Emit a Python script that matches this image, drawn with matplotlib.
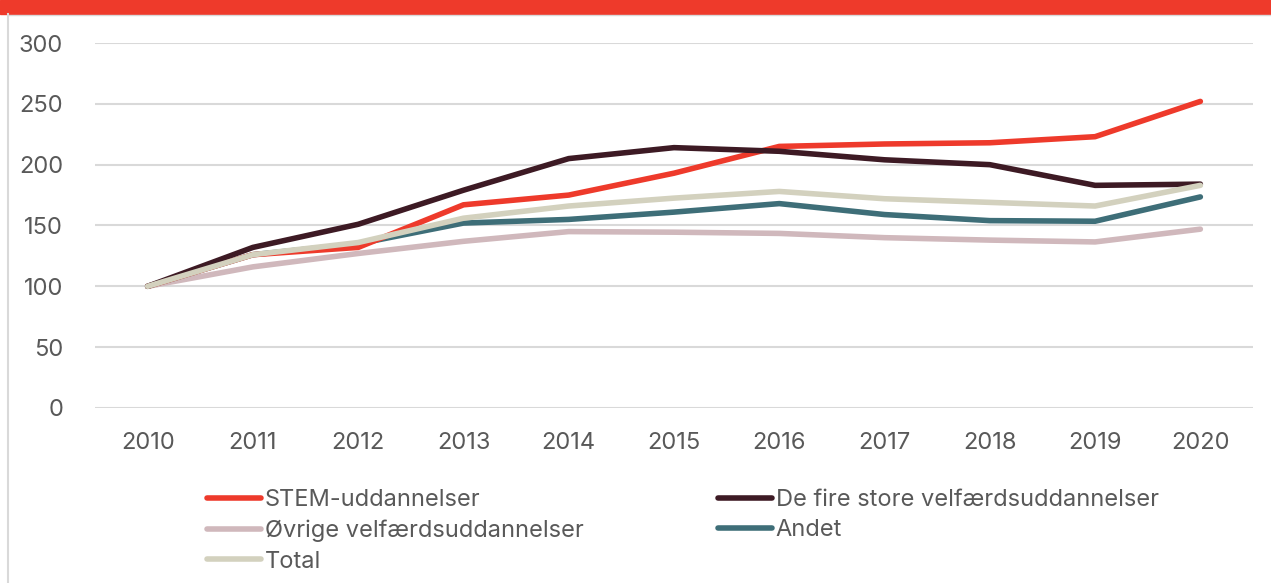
import matplotlib.pyplot as plt
from matplotlib.lines import Line2D
from matplotlib.patches import Rectangle

plt.rcParams['font.family'] = ['Inter', 'DejaVu Sans']

years = ['2010', '2011', '2012', '2013', '2014', '2015', '2016', '2017', '2018', '2019', '2020']
stem = [100, 126, 132, 167, 175, 193, 215, 217, 218, 223, 252]
fire_store = [100, 132, 151, 179, 205, 214, 211, 204, 200, 183, 184]
oevrige = [100, 116, 127, 137, 145, 144.5, 143.5, 140, 138, 136.5, 147]
andet = [100, 126, 135, 152, 155, 161, 168, 159, 154, 153.5, 173.5]
total = [100, 126, 136, 156, 166, 172.5, 178, 172, 169, 166, 183]

W, H = 1271, 583
fig = plt.figure(figsize=(W / 100, H / 100), dpi=100)

# red band on top + thin grey frame on the left
fig.patches.append(Rectangle((0, 1 - 14 / H), 1, 14 / H, transform=fig.transFigure,
                             color='#EE3A2B', zorder=0))
fig.lines.append(Line2D([8 / W, 8 / W], [0, 1 - 14 / H], transform=fig.transFigure,
                        color='#D9D9D9', lw=1.5))
fig.lines.append(Line2D([8 / W, 1], [1 - 15 / H, 1 - 15 / H], transform=fig.transFigure,
                        color='#D9D9D9', lw=1))

ax = fig.add_axes([95 / W, 1 - 408 / H, (1253 - 95) / W, (408 - 43) / H])

x = range(len(years))
series = [
    ('STEM-uddannelser', stem, '#EE3A2B'),
    ('De fire store velfærdsuddannelser', fire_store, '#3D1A24'),
    ('Øvrige velfærdsuddannelser', oevrige, '#D0B8BC'),
    ('Andet', andet, '#3E6E78'),
    ('Total', total, '#D3D1BE'),
]
order = {'Øvrige velfærdsuddannelser': 1, 'Andet': 2, 'STEM-uddannelser': 3,
         'De fire store velfærdsuddannelser': 4, 'Total': 5}
handles = {}
for name, vals, col in series:
    h, = ax.plot(x, vals, color=col, lw=4, solid_capstyle='round',
                 solid_joinstyle='round', zorder=order[name], label=name)
    handles[name] = h

ax.set_xlim(-0.5, len(years) - 0.5)
ax.set_ylim(0, 300)
ax.set_yticks(range(0, 301, 50))
ax.set_xticks(list(x))
ax.set_xticklabels(years)
ax.grid(axis='y', color='#D9D9D9', lw=1.5)
ax.set_axisbelow(True)
for s in ax.spines.values():
    s.set_visible(False)
ax.tick_params(length=0, labelsize=17, colors='#595959')
ax.tick_params(axis='y', pad=23)
ax.tick_params(axis='x', pad=17)

leg_kw = dict(frameon=False, fontsize=17, labelcolor='#595959', handlelength=2.3,
              handletextpad=0.15, labelspacing=0.36, borderaxespad=0, borderpad=0)
leg1 = fig.legend([handles['STEM-uddannelser'], handles['Øvrige velfærdsuddannelser'], handles['Total']],
                  ['STEM-uddannelser', 'Øvrige velfærdsuddannelser', 'Total'],
                  loc='upper left', bbox_to_anchor=(207 / W, 1 - 489 / H), **leg_kw)
leg2 = fig.legend([handles['De fire store velfærdsuddannelser'], handles['Andet']],
                  ['De fire store velfærdsuddannelser', 'Andet'],
                  loc='upper left', bbox_to_anchor=(718 / W, 1 - 489 / H), **leg_kw)

fig.savefig('out.png', dpi=100)
